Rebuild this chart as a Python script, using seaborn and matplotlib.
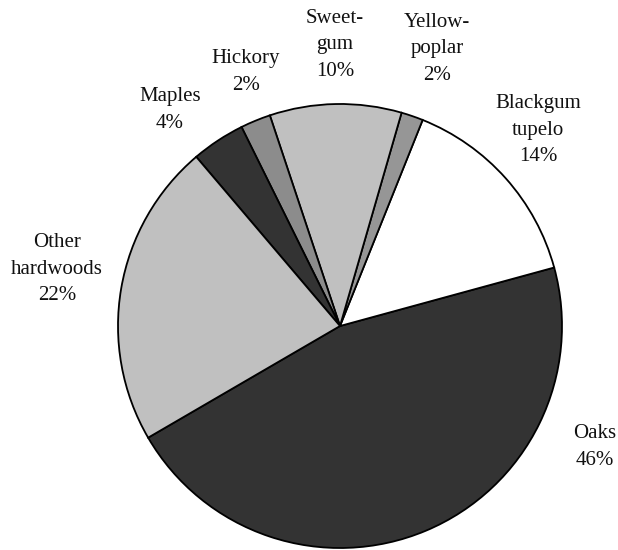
import numpy as np
import seaborn as sns
import matplotlib.pyplot as plt

# species groups, counter-clockwise starting with Oaks
species = ["Oaks", "Blackgum\ntupelo", "Yellow-\npoplar", "Sweet-\ngum",
           "Hickory", "Maples", "Other\nhardwoods"]
shares = [45.9, 14.7, 1.6, 9.6, 2.2, 3.9, 22.2]
pct_labels = ["46%", "14%", "2%", "10%", "2%", "4%", "22%"]
colors = ["#333333", "#ffffff", "#969696", "#c0c0c0", "#8c8c8c", "#333333", "#c0c0c0"]

# label centres in pixels (x from left, y from top)
label_px = [(595, 447), (538, 130), (437, 49), (335, 45),
            (246, 72), (170, 110), (57, 269)]

sns.set_theme(style="white")
plt.rcParams['font.family'] = ['Liberation Serif', 'DejaVu Serif']

W, H = 618, 550
cx, cy, R = 340, 326, 222

fig = plt.figure(figsize=(W / 100, H / 100), dpi=100)
ax = fig.add_axes([0, 0, 1, 1])

ax.pie(shares, colors=colors, startangle=210.2, counterclock=True,
       radius=1.0, center=(0, 0),
       wedgeprops=dict(edgecolor="black", linewidth=1.3))

for name, pct, (px, py) in zip(species, pct_labels, label_px):
    x = (px - cx) / R
    y = (cy - py) / R
    ax.text(x, y, name + "\n" + pct, ha="center", va="center",
            fontsize=15, linespacing=1.55, color="#111111")

ax.set_xlim(-cx / R, (W - cx) / R)
ax.set_ylim(-(H - cy) / R, cy / R)
ax.set_aspect("equal")
ax.axis("off")

fig.savefig("out.png", dpi=100)
